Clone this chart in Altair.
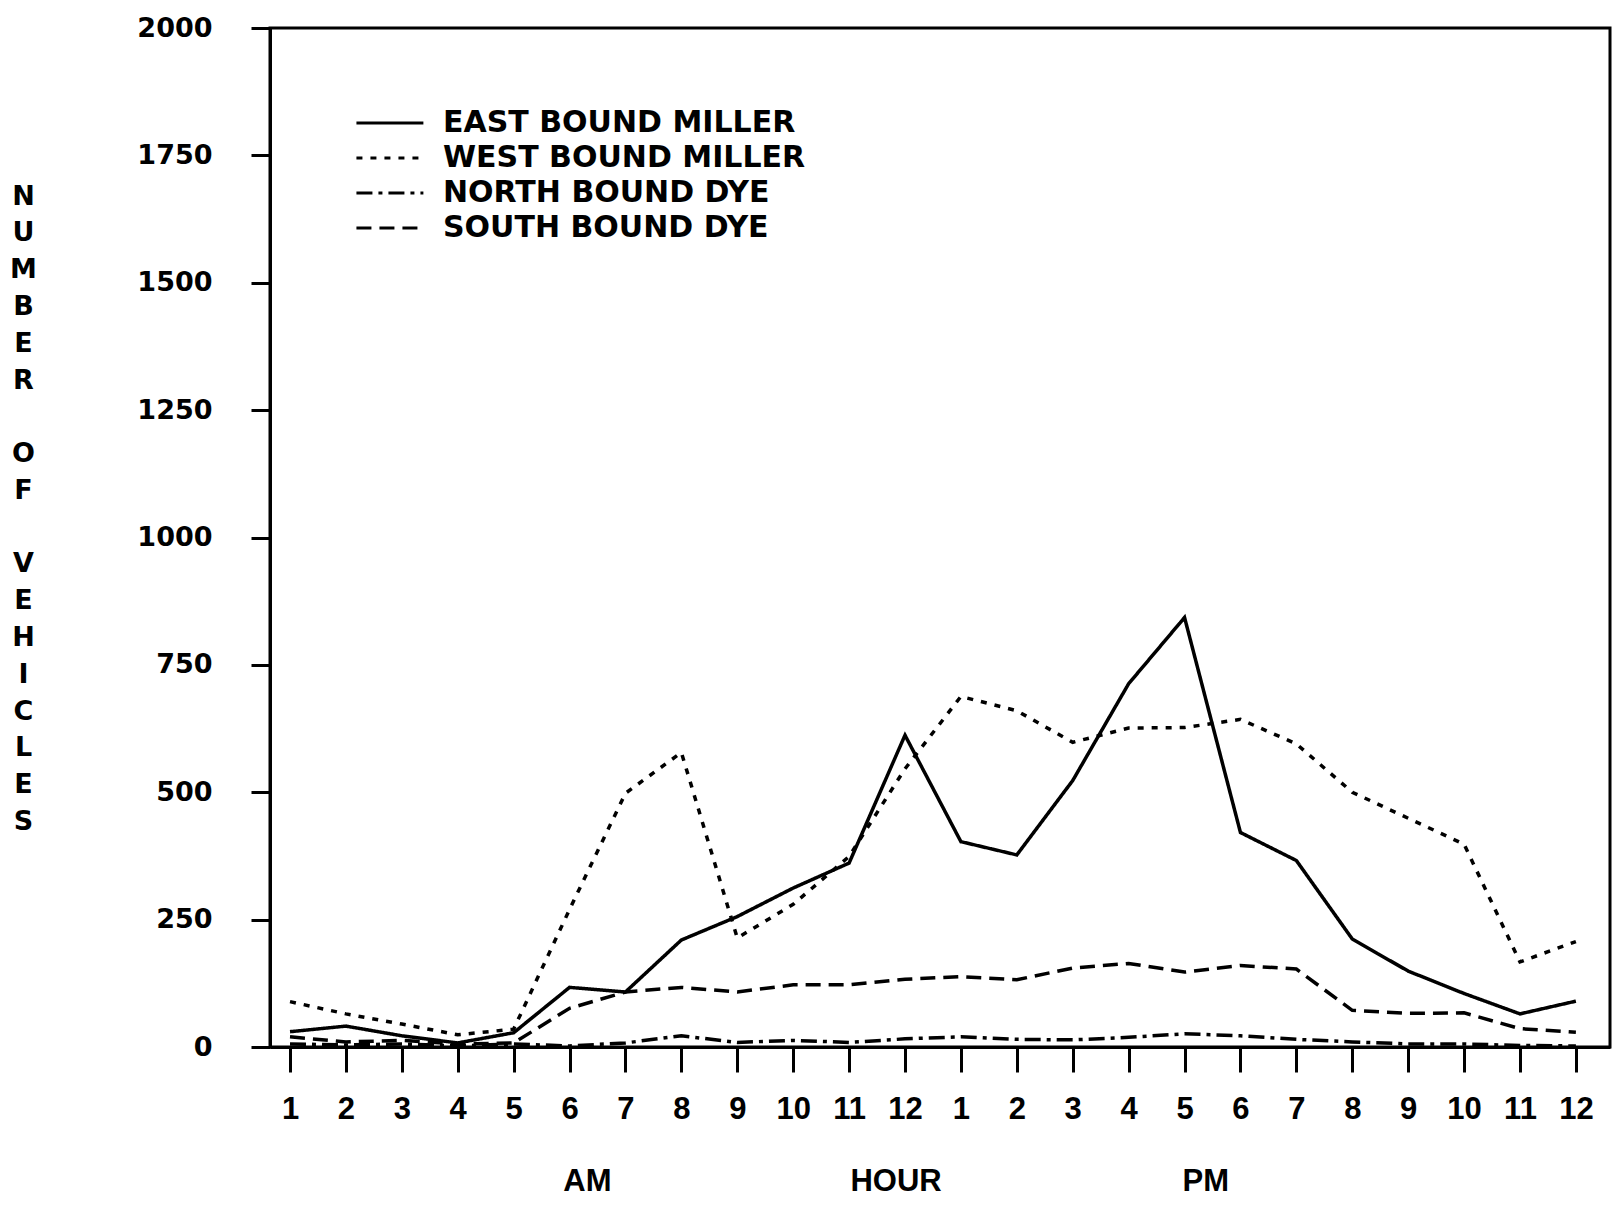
import altair as alt
import pandas as pd

# ---- data ----
hours = list(range(1, 25))
series_names = ["EAST BOUND MILLER", "WEST BOUND MILLER", "NORTH BOUND DYE", "SOUTH BOUND DYE"]
east = [30, 41, 22, 8, 28, 117, 108, 210, 256, 312, 361, 612, 403, 377, 523, 713, 843, 421, 366, 212, 149, 105, 65, 90]
west = [89, 65, 45, 24, 35, 270, 498, 578, 214, 280, 374, 546, 688, 660, 598, 626, 627, 643, 595, 500, 449, 398, 167, 207]
north = [6, 4, 6, 2, 6, 2, 8, 22, 9, 13, 9, 16, 20, 15, 14, 19, 26, 22, 15, 10, 6, 6, 3, 2]
south = [20, 10, 13, 6, 8, 76, 108, 117, 108, 122, 122, 133, 138, 132, 155, 164, 147, 160, 153, 72, 66, 67, 36, 29]
y_ticks = [0, 250, 500, 750, 1000, 1250, 1500, 1750, 2000]
bottom_texts = ["AM", "HOUR", "PM"]
bottom_text_hours = [6.32, 11.84, 17.38]

rows = []
for name, vals in zip(series_names, [east, west, north, south]):
    for h, v in zip(hours, vals):
        rows.append({"hour": h, "vehicles": v, "series": name})
df = pd.DataFrame(rows)
ann = pd.DataFrame({"hour": bottom_text_hours, "text": bottom_texts})

BOLD = "bold"
x_scale = alt.Scale(domain=[0.642, 24.61], nice=False, zero=False)
y_scale = alt.Scale(domain=[0, 2000], nice=False)

x_axis = alt.Axis(
    values=hours,
    labelExpr="'' + (datum.value > 12 ? datum.value - 12 : datum.value)",
    tickSize=25, tickWidth=3, tickColor="black",
    domainColor="black", domainWidth=3,
    labelFont="Liberation Sans Narrow, Liberation Sans", labelFontWeight=BOLD,
    labelFontSize=31, labelColor="black", labelPadding=22,
    labelFlush=False, labelOverlap=False, labelBound=False,
    grid=False, title=None,
)
x_enc = alt.X("hour:Q", scale=x_scale, axis=x_axis)

BLANK = "\u200b"
title_lines = list("NUMBER") + [BLANK] + list("OF") + [BLANK] + list("VEHICLES")

y_axis = alt.Axis(
    values=y_ticks, format="d",
    tickSize=19, tickWidth=3, tickColor="black",
    domainColor="black", domainWidth=3,
    labelFont="DejaVu Sans", labelFontWeight=BOLD, labelFontSize=27,
    labelColor="black", labelPadding=39, labelOverlap=False,
    grid=False,
    title=title_lines, titleAngle=0, titleX=-247, titleY=168,
    titleAlign="center", titleBaseline="middle",
    titleFont="DejaVu Sans", titleFontWeight=BOLD, titleFontSize=27,
    titleLineHeight=36.8, titleColor="black",
)

lines = alt.Chart(df).mark_line(color="black", strokeWidth=3.5).encode(
    x=x_enc,
    y=alt.Y("vehicles:Q", scale=y_scale, axis=y_axis),
    strokeDash=alt.StrokeDash(
        "series:N", title=None,
        scale=alt.Scale(domain=series_names,
                        range=[[1, 0], [6, 8], [16, 6, 4, 6], [15, 8]]),
        legend=alt.Legend(
            orient="none", legendX=81, legendY=80,
            symbolType="M-1,0H6", symbolSize=366,
            symbolStrokeWidth=3, symbolStrokeColor="black",
            labelFont="DejaVu Sans", labelFontWeight=BOLD, labelFontSize=30,
            labelColor="black", labelOffset=62, labelLimit=600,
            rowPadding=5, padding=0,
        ),
    ),
    order=alt.Order("hour:Q"),
)

texts = alt.Chart(ann).mark_text(
    font="Liberation Sans Narrow, Liberation Sans", fontWeight=BOLD, fontSize=31,
    align="center", baseline="middle", color="black",
).encode(
    x=x_enc,
    y=alt.value(1154),
    text="text:N",
)

chart = alt.layer(lines, texts).properties(
    width=1340, height=1019,
    autosize=alt.AutoSizeParams(type="none"),
    padding={"left": 270, "top": 28, "right": 6, "bottom": 160},
    background="white",
).configure_view(stroke="black", strokeWidth=3)

chart.save("out.html", embed_options={"renderer": "svg", "actions": False})
